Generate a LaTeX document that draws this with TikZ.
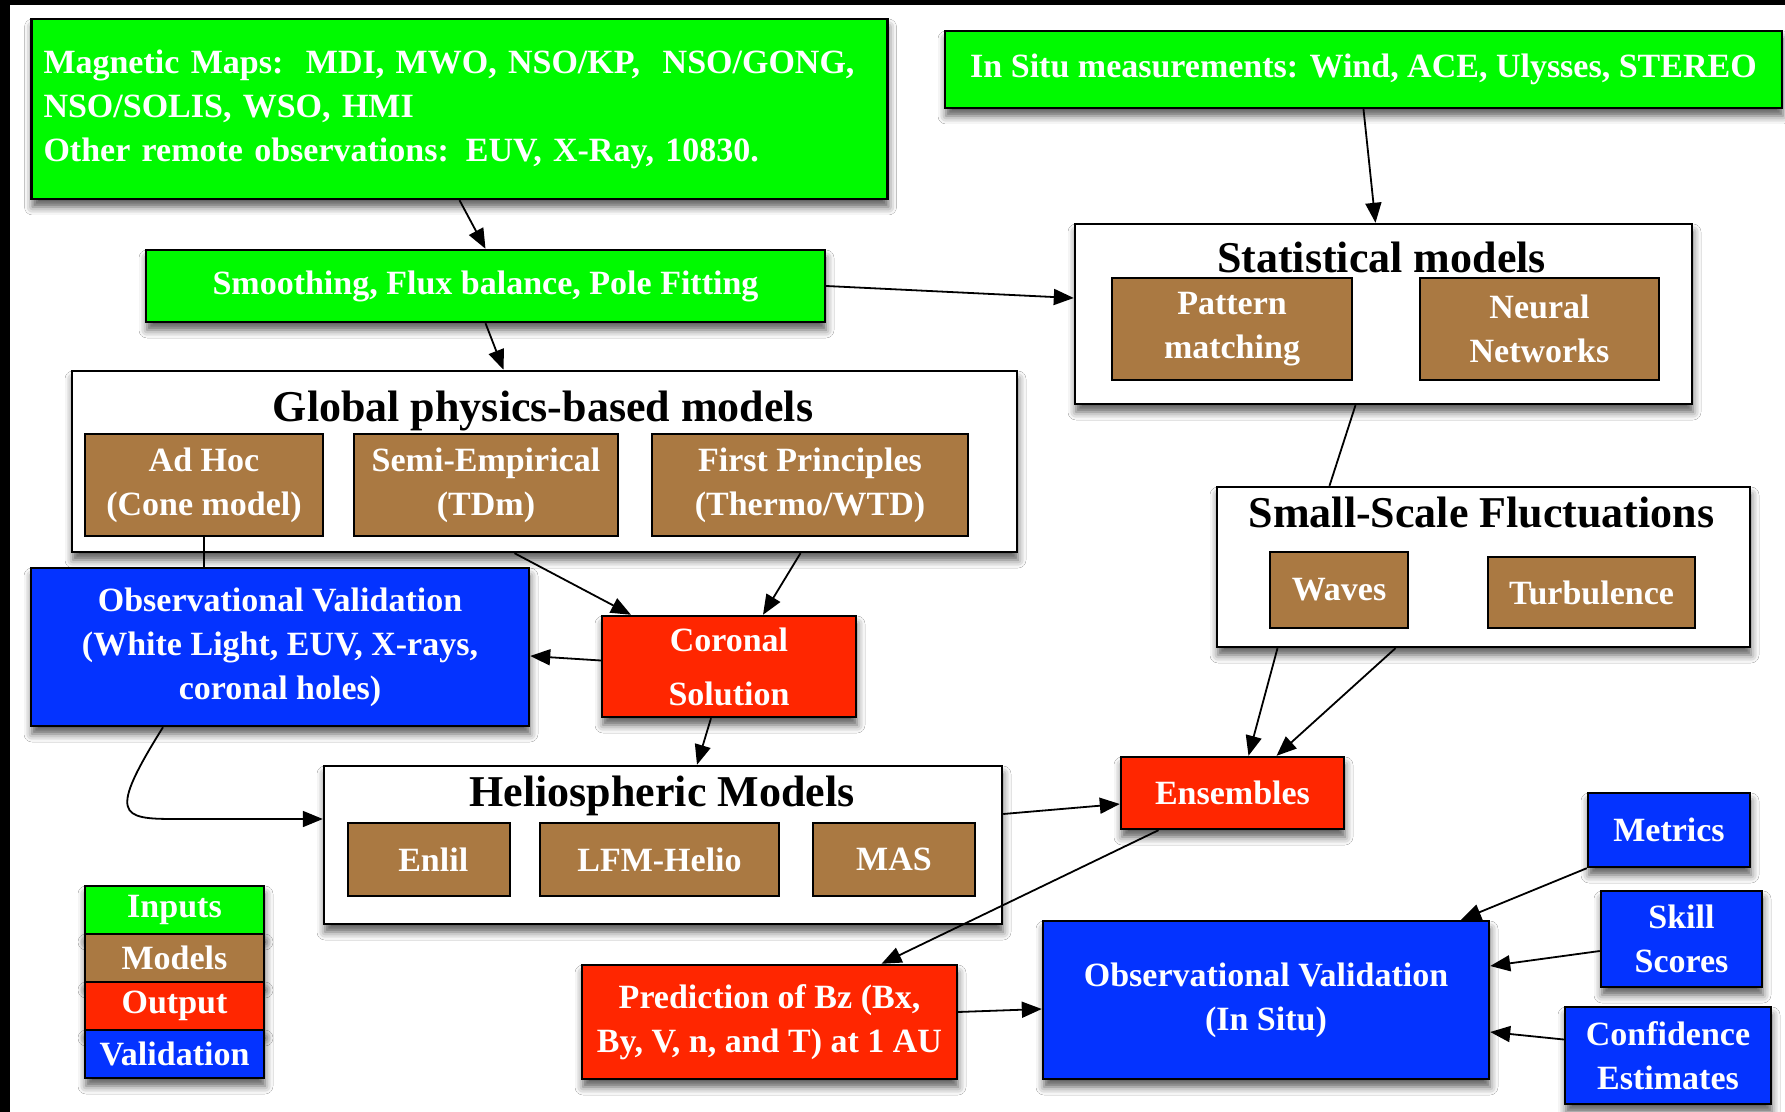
\documentclass[tikz,border=0pt]{standalone}
\usepackage{fontspec}
\setmainfont{Liberation Serif}
\usetikzlibrary{arrows.meta,shadows.blur}

\definecolor{ingreen}{RGB}{0,250,0}
\definecolor{modbrown}{RGB}{170,121,66}
\definecolor{outred}{RGB}{255,38,0}
\definecolor{valblue}{RGB}{4,51,255}

\tikzset{
    box/.style = {draw, line width = 1.2pt, inner sep = 0pt, align = center, text = white,
                  font = \bfseries\fontsize{17}{22}\selectfont},
    boxshadow/.style = {blur shadow = {shadow xshift = 0.5pt, shadow yshift = -4pt,
                        shadow blur radius = 4pt, shadow opacity = 65}},
    inbox/.style = {box, boxshadow, fill = ingreen},
    modbox/.style = {box, fill = modbrown},
    outbox/.style = {box, boxshadow, fill = outred},
    valbox/.style = {box, boxshadow, fill = valblue},
    groupbox/.style = {box, boxshadow, fill = white},
    grouptitle/.style = {font = \bfseries\fontsize{22}{26}\selectfont, inner sep = 0pt},
    arr/.style = {line width = 0.9pt, -{Triangle[length = 10pt, width = 8pt]}},
    link/.style = {line width = 0.9pt},
}

\begin{document}
\begin{tikzpicture}[x = 0.5pt, y = -0.5pt]
    %背景与左上黑边
    \useasboundingbox (0,0) rectangle (1785,1112);
    \fill[white] (0,0) rectangle (1785,1112);
    \fill[black] (0,0) rectangle (1785,5);
    \fill[black] (0,0) rectangle (10,1112);

    %输入数据
    \node[inbox, text width = 416pt, align = left, inner xsep = 6pt, minimum height = 90pt] (mag) at (459.5,109)
        {Magnetic Maps:\ \ MDI, MWO, NSO/KP,\ \ NSO/GONG,\\NSO/SOLIS, WSO, HMI\\Other remote observations: EUV, X-Ray, 10830.};
    \node[inbox, minimum width = 418.5pt, minimum height = 38.5pt] (insitu) at (1363.5,69.5)
        {In Situ measurements: Wind, ACE, Ulysses, STEREO};
    \node[inbox, minimum width = 339.5pt, minimum height = 36pt] (smooth) at (485.5,286)
        {Smoothing, Flux balance, Pole Fitting};

    %统计模型
    \node[groupbox, minimum width = 308.5pt, minimum height = 90pt] (stat) at (1383.5,314) {};
    \node[grouptitle] (stattitle) at (1381.5,257) {Statistical models};
    \node[modbox, minimum width = 120pt, minimum height = 51pt] (pattern) at (1232,329) {Pattern\\matching};
    \node[modbox, minimum width = 119.5pt, minimum height = 51pt] (neural) at (1539.5,329) {Neural\\Networks};

    %全局物理模型
    \node[groupbox, minimum width = 472.5pt, minimum height = 90.5pt] (global) at (544.5,461.5) {};
    \node[grouptitle] (globaltitle) at (543,411) {Global physics-based models};
    \node[modbox, minimum width = 119pt, minimum height = 51pt] (adhoc) at (204,485) {Ad Hoc\\(Cone model)};
    \node[modbox, minimum width = 132pt, minimum height = 51pt] (semi) at (486,485) {Semi-Empirical\\(TDm)};
    \node[modbox, minimum width = 158pt, minimum height = 51pt] (first) at (810,485) {First Principles\\(Thermo/WTD)};

    %小尺度涨落
    \node[groupbox, minimum width = 266.5pt, minimum height = 80pt] (small) at (1483.5,567) {};
    \node[grouptitle] (smalltitle) at (1481.5,513) {Small-Scale Fluctuations};
    \node[modbox, minimum width = 69pt, minimum height = 38pt] (waves) at (1339,590) {Waves};
    \node[modbox, minimum width = 103.5pt, minimum height = 35.5pt] (turb) at (1591.5,592.5) {Turbulence};

    %日冕解与验证
    \node[valbox, minimum width = 249pt, minimum height = 79pt] (obsleft) at (280,647)
        {Observational Validation\\(White Light, EUV, X-rays,\\coronal holes)};
    \node[outbox, minimum width = 127pt, minimum height = 50.5pt] (coronal) at (729,666.5) {Coronal\\[5pt]Solution};

    %日球层模型
    \node[groupbox, minimum width = 339pt, minimum height = 79pt] (helio) at (663,845) {};
    \node[grouptitle] (heliotitle) at (662,796) {Heliospheric Models};
    \node[modbox, minimum width = 81pt, minimum height = 36.5pt] (enlil) at (429,859.5) {\ Enlil};
    \node[modbox, minimum width = 119.5pt, minimum height = 36.5pt] (lfm) at (659.5,859.5) {LFM-Helio};
    \node[modbox, minimum width = 81pt, minimum height = 36.5pt] (mas) at (894,859.5) {MAS};

    \node[outbox, minimum width = 111.5pt, minimum height = 36pt] (ens) at (1232.5,793) {Ensembles};

    %图例
    \node[inbox, minimum width = 89.5pt, minimum height = 24pt] (leginputs) at (174.5,910) {Inputs};
    \node[modbox, boxshadow, minimum width = 89.5pt, minimum height = 24pt] (legmodels) at (174.5,958) {Models};
    \node[outbox, minimum width = 89.5pt, minimum height = 24pt] (legoutput) at (174.5,1006) {Output};
    \node[valbox, minimum width = 89.5pt, minimum height = 24pt] (legvalid) at (174.5,1054) {Validation};

    %预报与就地验证
    \node[outbox, minimum width = 187.5pt, minimum height = 57pt] (predict) at (769.5,1022)
        {Prediction of Bz (Bx,\\By, V, n, and T) at 1 AU};
    \node[valbox, minimum width = 223pt, minimum height = 79pt] (obsinsitu) at (1266,1000)
        {Observational Validation\\(In Situ)};
    \node[valbox, minimum width = 81pt, minimum height = 37pt] (metrics) at (1669,830) {Metrics};
    \node[valbox, minimum width = 80.5pt, minimum height = 48pt] (skill) at (1681.5,939) {Skill\\Scores};
    \node[valbox, minimum width = 103pt, minimum height = 48.5pt] (confid) at (1668,1055.5) {Confidence\\Estimates};

    %连线
    \draw[arr] (mag.south) -- (smooth.north);
    \draw[arr] (insitu.south) -- ([xshift = -4pt]stat.north);
    \draw[arr] (smooth.east) -- ([yshift = 8pt]stat.west);
    \draw[arr] (smooth.south) -- ([xshift = -20.5pt]global.north);
    \draw[link] ([xshift = -14pt]stat.south) -- ([xshift = -77pt]small.north);
    \draw[link] (adhoc.south) -- (adhoc.south |- obsleft.north);
    \draw[arr] ([xshift = -15pt]global.south) -- ([xshift = -49pt]coronal.north);
    \draw[arr] ([xshift = 128pt]global.south) -- ([xshift = 17pt]coronal.north);
    \draw[arr] ([yshift = 3pt]coronal.west) -- ([yshift = -4.5pt]obsleft.east);
    \draw[arr] ([xshift = -9pt]coronal.south) -- ([xshift = 17pt]helio.north);
    \coordinate (bend) at (175,819);
    \draw[arr] ([xshift = -58.5pt]obsleft.south) .. controls +(-55,88) and +(-55,0) .. (bend)
        -- ([yshift = 13pt]helio.west);
    \draw[arr] ([xshift = -103pt]small.south) -- ([xshift = 8pt]ens.north);
    \draw[arr] ([xshift = -44pt]small.south) -- ([xshift = 22pt]ens.north);
    \draw[arr] ([yshift = 15.5pt]helio.east) -- ([yshift = -5.5pt]ens.west);
    \draw[arr] ([xshift = -37pt]ens.south) -- ([xshift = 56pt]predict.north);
    \draw[arr] ([yshift = 5pt]predict.east) -- ([yshift = -4.5pt]obsinsitu.west);
    \draw[arr] (metrics.south west) -- ([xshift = 97.5pt]obsinsitu.north);
    \draw[arr] ([yshift = -6pt]skill.west) -- ([yshift = 17pt]obsinsitu.east);
    \draw[arr] ([yshift = 8pt]confid.west) -- ([yshift = -16pt]obsinsitu.east);
\end{tikzpicture}
\end{document}
